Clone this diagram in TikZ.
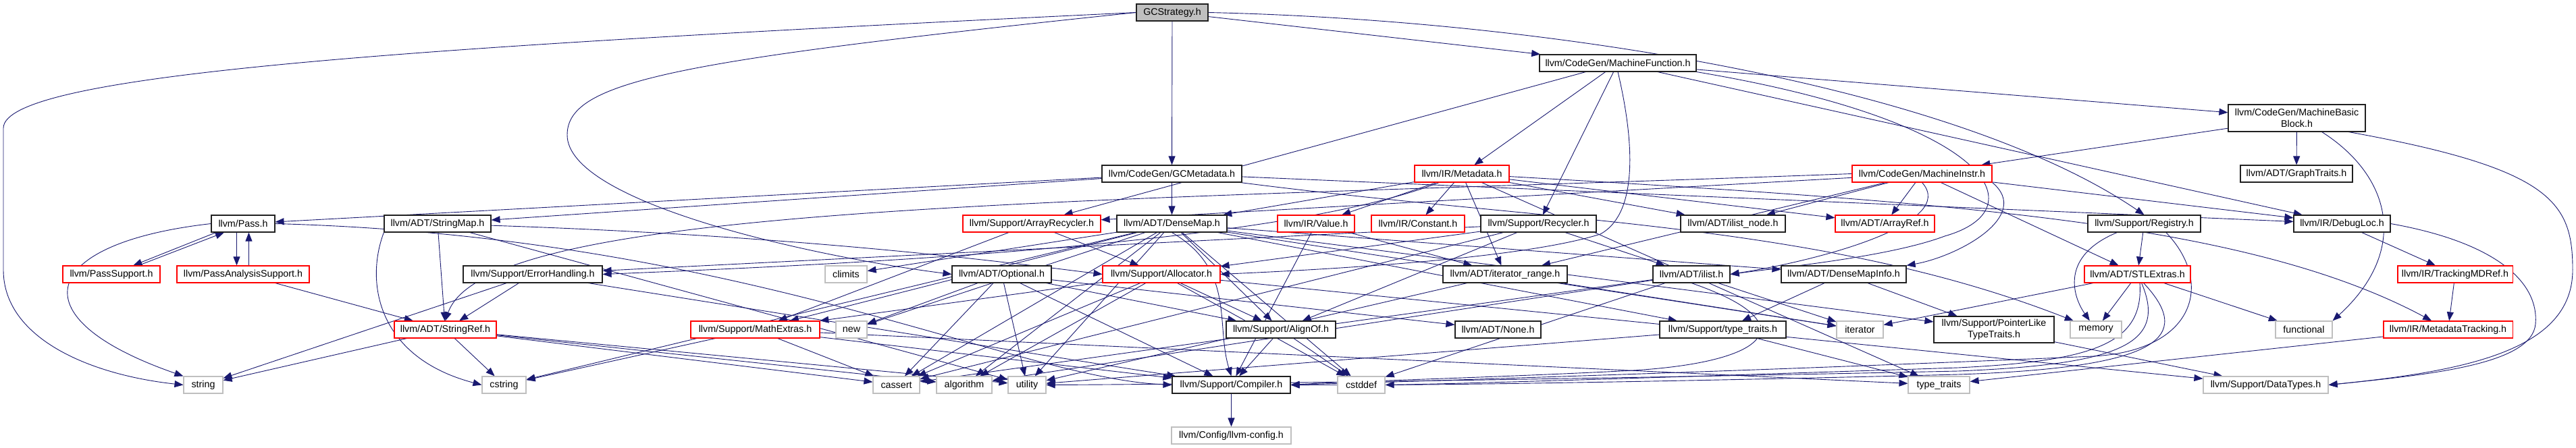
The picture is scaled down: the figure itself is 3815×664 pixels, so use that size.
\documentclass[tikz,border=0pt]{standalone}
\usepackage{fontspec}
\setmainfont{Liberation Sans}
\usetikzlibrary{arrows.meta}
\pgfdeclarelayer{bg}
\pgfsetlayers{bg,main}
\definecolor{edgec}{HTML}{191970}
\definecolor{grayb}{HTML}{BFBFBF}
\definecolor{blkb}{HTML}{202020}
\newcommand\mknode[6]{\node[#1, minimum width=#5*0.01cm, minimum height=#6*0.01cm] (#2) at (#3) {#4};}
\tikzset{
  nbase/.style={rectangle, inner sep=0pt, fill=white, line width=0.011cm, align=center, text=black},
  blk/.style={nbase, draw=blkb},
  redn/.style={nbase, draw=red},
  grn/.style={nbase, draw=grayb},
  rootn/.style={nbase, draw=blkb, fill=grayb},
  e/.style={draw=edgec, line width=0.009cm, -{Triangle[length=0.13cm,width=0.10cm]}}
}
\begin{document}
\begin{tikzpicture}[x=0.01cm, y=-0.01cm, font=\fontsize{4.06pt}{4.9pt}\selectfont]
\useasboundingbox (0,0) rectangle (3815,664);
% row 0-3
\mknode{rootn}{gcs}{1736,18.5}{GCStrategy.h}{106}{25}
\mknode{blk}{mf}{2396,93.5}{llvm/CodeGen/MachineFunction.h}{232}{25}
\mknode{blk}{mbb}{3401.5,175}{llvm/CodeGen/MachineBasic\\Block.h}{203}{40}
\mknode{blk}{gcm}{1735.5,257.5}{llvm/CodeGen/GCMetadata.h}{207}{25}
\mknode{redn}{md}{2165,257.5}{llvm/IR/Metadata.h}{140}{25}
\mknode{redn}{mi}{2846.5,257.5}{llvm/CodeGen/MachineInstr.h}{207}{25}
\mknode{blk}{gt}{3401,257.5}{llvm/ADT/GraphTraits.h}{166}{25}
% row 4
\mknode{blk}{pass}{360,331.5}{llvm/Pass.h}{94}{25}
\mknode{blk}{smap}{648,331.5}{llvm/ADT/StringMap.h}{158}{25}
\mknode{redn}{arec}{1528,331.5}{llvm/Support/ArrayRecycler.h}{204}{25}
\mknode{blk}{dmap}{1735.5,331.5}{llvm/ADT/DenseMap.h}{163}{25}
\mknode{redn}{val}{1949,331.5}{llvm/IR/Value.h}{114}{25}
\mknode{redn}{const}{2100,331.5}{llvm/IR/Constant.h}{138}{25}
\mknode{blk}{rec}{2278.5,331.5}{llvm/Support/Recycler.h}{171}{25}
\mknode{blk}{ilnode}{2566.5,331.5}{llvm/ADT/ilist\_node.h}{155}{25}
\mknode{redn}{aref}{2791.5,331.5}{llvm/ADT/ArrayRef.h}{147}{25}
\mknode{blk}{reg}{3175.5,331.5}{llvm/Support/Registry.h}{167}{25}
\mknode{blk}{dloc}{3468.5,331.5}{llvm/IR/DebugLoc.h}{143}{25}
% row 5
\mknode{redn}{psup}{165,406.5}{llvm/PassSupport.h}{144}{25}
\mknode{redn}{pasup}{360,406.5}{llvm/PassAnalysisSupport.h}{196}{25}
\mknode{blk}{err}{789,406.5}{llvm/Support/ErrorHandling.h}{206}{25}
\mknode{grn}{clim}{1253,406.5}{climits}{62}{25}
\mknode{blk}{opt}{1483.5,406.5}{llvm/ADT/Optional.h}{147}{25}
\mknode{redn}{alloc}{1720,406.5}{llvm/Support/Allocator.h}{174}{25}
\mknode{blk}{itr}{2229,406.5}{llvm/ADT/iterator\_range.h}{184}{25}
\mknode{blk}{ilist}{2505,406.5}{llvm/ADT/ilist.h}{114}{25}
\mknode{blk}{dmi}{2730.5,406.5}{llvm/ADT/DenseMapInfo.h}{185}{25}
\mknode{redn}{stl}{3165.5,406.5}{llvm/ADT/STLExtras.h}{157}{25}
\mknode{redn}{tmd}{3636,406.5}{llvm/IR/TrackingMDRef.h}{170}{25}
% row 6
\mknode{redn}{sref}{659.5,488.5}{llvm/ADT/StringRef.h}{151}{25}
\mknode{redn}{mext}{1118.5,488.5}{llvm/Support/MathExtras.h}{191}{25}
\mknode{grn}{new}{1261,488.5}{new}{46}{25}
\mknode{blk}{align}{1897,488.5}{llvm/Support/AlignOf.h}{162}{25}
\mknode{blk}{none}{2218.5,488.5}{llvm/ADT/None.h}{127}{25}
\mknode{blk}{stt}{2551.5,488.5}{llvm/Support/type\_traits.h}{187}{25}
\mknode{grn}{iter}{2754.5,488.5}{iterator}{69}{25}
\mknode{blk}{pltt}{2953,488.5}{llvm/Support/PointerLike\\TypeTraits.h}{178}{39}
\mknode{grn}{mem}{3104,488.5}{memory}{76}{25}
\mknode{grn}{func}{3412,488.5}{functional}{84}{25}
\mknode{redn}{mdt}{3625.5,488.5}{llvm/IR/MetadataTracking.h}{191}{25}
% row 7
\mknode{grn}{str}{301,570.5}{string}{58}{25}
\mknode{grn}{cstr}{746.5,570.5}{cstring}{65}{25}
\mknode{grn}{cass}{1327.5,570.5}{cassert}{69}{25}
\mknode{grn}{algo}{1428,570.5}{algorithm}{82}{25}
\mknode{grn}{util}{1521,570.5}{utility}{56}{25}
\mknode{blk}{comp}{1823.5,570.5}{llvm/Support/Compiler.h}{175}{25}
\mknode{grn}{cstd}{2016,570.5}{cstddef}{70}{25}
\mknode{grn}{tt}{2871.5,570.5}{type\_traits}{91}{25}
\mknode{grn}{dt}{3355.5,570.5}{llvm/Support/DataTypes.h}{185}{25}
% row 8
\mknode{grn}{cfg}{1823.5,645.5}{llvm/Config/llvm-config.h}{177}{25}

\begin{pgfonlayer}{bg}
% GCStrategy
\draw[e] (gcs.west) .. controls (600,70) and (5,110) .. (5,190) -- (5,400) .. controls (5,500) and (130,555) .. (str.west);
\draw[e] (gcs.west) .. controls (1000,90) and (840,120) .. (840,200) .. controls (840,300) and (1200,380) .. (opt.west);
\draw[e] (gcs) -- (gcm);
\draw[e] (gcs) -- (mf);
\draw[e] (gcs.east) .. controls (2300,30) and (2900,130) .. (reg.north);
% GCMetadata
\draw[e] (gcm) -- (dmap);
\draw[e] (gcm) -- (smap);
\draw[e] (gcm) -- (pass);
\draw[e] (gcm) -- (dloc);
\draw[e] (gcm) .. controls (2300,330) and (2700,330) .. (mem);
% MachineFunction
\draw[e] (mf) -- (mbb);
\draw[e] (mf) -- (dloc);
\draw[e] (mf) -- (md);
\draw[e] (mf) -- (arec);
\draw[e] (mf) -- (rec);
\draw[e] (mf.south) .. controls (2425,230) and (2420,320) .. (2370,347) .. controls (2250,385) and (1950,400) .. (alloc.east);
\draw[e] (mf.south east) .. controls (2950,180) and (3020,310) .. (2880,350) .. controls (2800,380) and (2650,395) .. (ilist.east);
% MachineBasicBlock
\draw[e] (mbb) -- (mi);
\draw[e] (mbb) -- (gt);
\draw[e] (mbb.331) .. controls (3540,260) and (3570,370) .. (func.north east);
\draw[e] (mbb.345) .. controls (3780,250) and (3810,300) .. (3810,400) .. controls (3810,520) and (3650,550) .. (dt.east);
% Metadata
\draw[e] (md) -- (val);
\draw[e] (md) -- (const);
\draw[e] (md) -- (dmap);
\draw[e] (md) .. controls (1900,360) and (1300,390) .. (err.east);
\draw[e] (md) -- (ilnode);
\draw[e] (md) -- (aref);
\draw[e] (md) -- (itr);
\draw[e] (md) .. controls (2900,300) and (3330,330) .. (mdt);
\draw[e] (md) -- (tt);
% MachineInstr
\draw[e] (mi) -- (arec);
\draw[e] (mi.west) .. controls (1600,300) and (720,300) .. (sref.north);
\draw[e] (mi) -- (ilnode);
\draw[e] (mi) -- (itr);
\draw[e] (mi) -- (aref);
\draw[e] (mi.south) .. controls (2900,330) and (2700,385) .. (ilist.east);
\draw[e] (mi.south east) .. controls (3010,320) and (2900,380) .. (dmi.north east);
\draw[e] (mi) -- (stl);
\draw[e] (mi) -- (dloc);
% Pass
\draw[e] (pass.west) .. controls (60,360) and (20,470) .. (str.north west);
\draw[e] (pass.198) -- (psup.22);
\draw[e] (psup.18) -- (pass.205);
\draw[e] (pass.234) -- (pasup.126);
\draw[e] (pasup.57) -- (pass.303);
\draw[e] (pass.east) .. controls (1100,350) and (1500,560) .. (comp.west);
\draw[e] (pasup) -- (sref);
% StringMap
\draw[e] (smap) -- (sref);
\draw[e] (smap) .. controls (1200,350) and (1500,390) .. (alloc.west);
\draw[e] (smap.south west) .. controls (540,420) and (560,530) .. (cstr.west);
\draw[e] (smap) -- (util);
% ErrorHandling
\draw[e] (err) -- (sref);
\draw[e] (err) -- (str);
\draw[e] (err) -- (comp);
% ArrayRecycler
\draw[e] (arec) -- (alloc);
\draw[e] (arec) -- (mext);
% DenseMap
\draw[e] (dmap) -- (dmi);
\draw[e] (dmap) -- (align);
\draw[e] (dmap.south) .. controls (1830,400) and (1800,480) .. (comp.north);
\draw[e] (dmap) -- (mext);
\draw[e] (dmap) -- (pltt);
\draw[e] (dmap) -- (stt);
\draw[e] (dmap) -- (algo);
\draw[e] (dmap) -- (cass);
\draw[e] (dmap) -- (clim);
\draw[e] (dmap) -- (cstd);
\draw[e] (dmap) -- (cstr);
\draw[e] (dmap) -- (iter);
\draw[e] (dmap) -- (new);
\draw[e] (dmap) -- (util);
% Recycler
\draw[e] (rec) -- (ilist);
\draw[e] (rec) -- (align);
\draw[e] (rec) -- (alloc);
\draw[e] (rec) -- (err);
\draw[e] (rec) -- (cass);
% Value
\draw[e] (val) -- (itr);
\draw[e] (val) -- (comp);
% Registry
\draw[e] (reg) -- (stl);
\draw[e] (reg.198) .. controls (3050,380) and (3070,440) .. (mem);
\draw[e] (reg.338) .. controls (3280,420) and (3250,520) .. (3100,528) .. controls (2600,550) and (2100,565) .. (comp.east);
% DebugLoc
\draw[e] (dloc) -- (tmd);
\draw[e] (dloc.east) .. controls (3700,360) and (3760,420) .. (3755,480) .. controls (3750,540) and (3600,555) .. (dt.east);
% Optional
\draw[e] (opt) -- (none);
\draw[e] (opt) -- (align);
\draw[e] (opt) -- (comp);
\draw[e] (opt) -- (cass);
\draw[e] (opt) -- (new);
\draw[e] (opt) -- (util);
% Allocator
\draw[e] (alloc) -- (align);
\draw[e] (alloc) -- (dt);
\draw[e] (alloc) -- (mext);
\draw[e] (alloc) -- (algo);
\draw[e] (alloc) -- (cass);
\draw[e] (alloc) -- (cstd);
% iterator_range
\draw[e] (itr) -- (util);
\draw[e] (itr) -- (iter);
% ilist
\draw[e] (ilist.south) .. controls (2680,480) and (2620,540) .. (2400,550) .. controls (2200,560) and (2000,565) .. (comp.east);
\draw[e] (ilist) -- (algo);
\draw[e] (ilist) -- (cass);
\draw[e] (ilist) -- (cstd);
\draw[e] (ilist) -- (iter);
% DenseMapInfo
\draw[e] (dmi) -- (pltt);
\draw[e] (dmi) -- (stt);
% STLExtras
\draw[e] (stl) -- (func);
\draw[e] (stl) -- (mem);
\draw[e] (stl) -- (iter);
\draw[e] (stl.285) .. controls (3175,510) and (3100,535) .. (2900,545) .. controls (2500,558) and (2200,568) .. (cstd.east);
\draw[e] (stl.295) .. controls (3210,510) and (3140,540) .. (2900,550) .. controls (2200,565) and (1700,570) .. (util.east);
\draw[e] (stl.305) .. controls (3250,500) and (3200,545) .. (2900,555) .. controls (2500,565) and (2100,572) .. (comp.east);
% TrackingMDRef
\draw[e] (tmd) -- (mdt);
% StringRef
\draw[e] (sref) -- (algo);
\draw[e] (sref) -- (cass);
\draw[e] (sref) -- (cstr);
\draw[e] (sref) -- (str);
\draw[e] (sref) -- (util);
% MathExtras
\draw[e] (mext) -- (comp);
\draw[e] (mext) -- (cass);
\draw[e] (mext) -- (cstr);
\draw[e] (mext) -- (tt);
% AlignOf
\draw[e] (align) -- (comp);
\draw[e] (align) -- (cstd);
% Support/type_traits
\draw[e] (stt) -- (tt);
\draw[e] (stt) -- (util);
% PointerLikeTypeTraits
\draw[e] (pltt) -- (dt);
% MetadataTracking
\draw[e] (mdt) -- (tt);
% Compiler
\draw[e] (comp) -- (cfg);
\end{pgfonlayer}
\end{tikzpicture}
\end{document}
